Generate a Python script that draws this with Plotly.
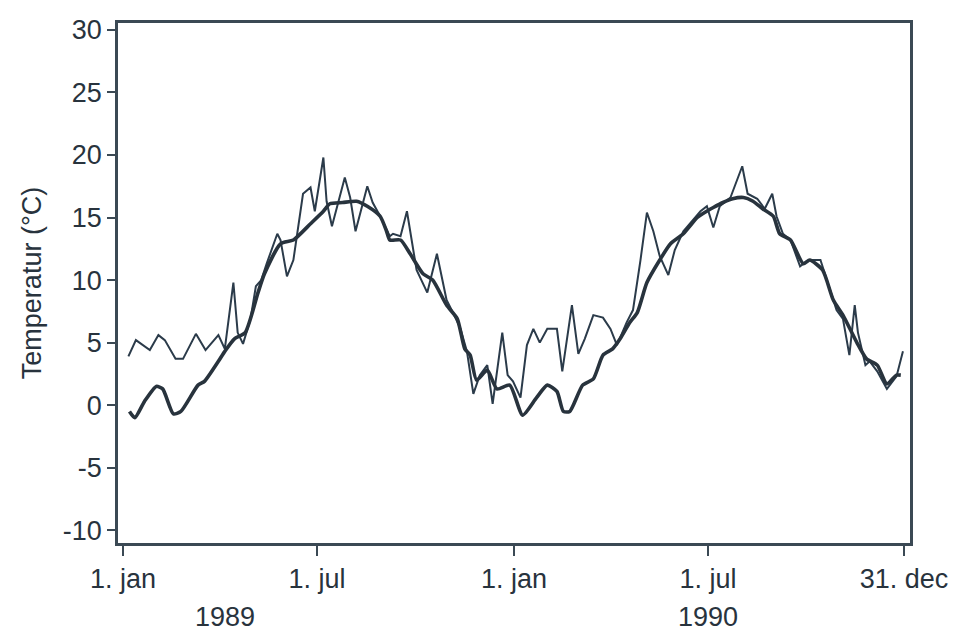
import pandas as pd
import plotly.graph_objects as go

# Days since 1 Jan 1989 and temperatures (°C)
thin_days = [5, 12, 25, 33, 39, 49, 56, 68, 77, 89, 95, 103, 107, 112, 119, 124, 129, 134,
             144, 147, 153, 159, 168, 175, 179, 187, 190, 195, 207, 212, 217, 228, 233, 240,
             249, 252, 259, 265, 274, 284, 293, 302, 308, 315, 321, 327, 333, 340, 345, 354,
             359, 364, 371, 377, 383, 389, 396, 405, 410, 419, 425, 431, 439, 448, 455, 461,
             470, 476, 483, 489, 495, 501, 509, 515, 523, 529, 539, 545, 551, 557, 567, 578,
             583, 592, 599, 606, 610, 616, 623, 632, 638, 641, 651, 657, 666, 672, 678, 683,
             686, 693, 697, 704, 713, 722, 728]
thin_temp = [3.9, 5.2, 4.4, 5.6, 5.2, 3.7, 3.7, 5.7, 4.4, 5.6, 4.5, 9.8, 5.8, 4.9, 6.9, 9.5, 10.0, 11.3,
             13.7, 13.2, 10.3, 11.6, 16.9, 17.4, 15.5, 19.8, 16.3, 14.3, 18.2, 16.6, 13.9, 17.5, 16.2, 15.1,
             13.5, 13.7, 13.5, 15.5, 10.8, 9.0, 12.1, 8.4, 7.4, 6.1, 4.3, 0.9, 2.4, 3.2, 0.1, 5.8,
             2.4, 1.9, 0.6, 4.8, 6.1, 5.0, 6.1, 6.1, 2.7, 8.0, 4.1, 5.3, 7.2, 7.0, 6.1, 4.8,
             6.6, 7.6, 11.6, 15.4, 13.9, 11.9, 10.4, 12.4, 13.9, 14.5, 15.5, 15.9, 14.2, 15.9, 16.6, 19.1,
             16.9, 16.5, 15.7, 16.9, 15.1, 13.7, 13.2, 11.1, 11.5, 11.6, 11.6, 10.0, 7.6, 6.9, 4.0, 8.0,
             5.8, 3.2, 3.5, 2.7, 1.3, 2.3, 4.3]

smooth_days = [6, 11, 20, 31, 37, 47, 54, 70, 76, 89, 95, 104, 114, 126, 132, 147, 159, 175, 187,
               193, 205, 218, 228, 240, 246, 249, 259, 268, 280, 289, 302, 312, 319, 324, 330, 340,
               349, 361, 373, 386, 396, 405, 411, 417, 429, 439, 448, 457, 464, 473, 480, 489, 501,
               511, 523, 536, 541, 551, 560, 569, 579, 588, 597, 607, 613, 623, 635, 641, 653, 663,
               672, 685, 694, 704, 713, 722, 726]
smooth_temp = [-0.5, -1.0, 0.3, 1.5, 1.3, -0.7, -0.5, 1.6, 1.9, 3.5, 4.3, 5.3, 5.8, 9.0, 10.5, 12.9, 13.2, 14.5, 15.5,
               16.1, 16.2, 16.3, 15.9, 15.1, 13.9, 13.2, 13.2, 12.1, 10.5, 10.0, 8.0, 6.9, 4.5, 4.0, 2.0, 2.8,
               1.3, 1.6, -0.8, 0.6, 1.6, 1.1, -0.5, -0.5, 1.6, 2.1, 4.0, 4.5, 5.3, 6.6, 7.4, 9.8, 11.6,
               12.9, 13.7, 15.0, 15.3, 15.8, 16.2, 16.5, 16.6, 16.3, 15.7, 15.1, 13.7, 13.2, 11.3, 11.6, 10.8, 8.4,
               7.2, 5.0, 3.7, 3.2, 1.7, 2.4, 2.4]

tick_dates = ["1989-01-01", "1989-07-01", "1990-01-01", "1990-07-01", "1990-12-31"]
tick_labels = ["1. jan", "1. jul", "1. jan", "1. jul", "31. dec"]
year_labels = ["1989", "1990"]
year_label_dates = ["1989-04-06", "1990-07-01"]

base = pd.Timestamp("1989-01-01")
thin_x = [base + pd.Timedelta(days=d) for d in thin_days]
smooth_x = [base + pd.Timedelta(days=d) for d in smooth_days]

ink = "#28333d"
axis_col = "#3b4954"
FONT = "Liberation Sans, Arial, Helvetica, sans-serif"
FS = 27

fig = go.Figure()
fig.add_trace(go.Scatter(x=thin_x, y=thin_temp, mode="lines",
                         line=dict(color="#2b3b4a", width=2.0), showlegend=False))
fig.add_trace(go.Scatter(x=smooth_x, y=smooth_temp, mode="lines",
                         line=dict(color=ink, width=3.6, shape="spline", smoothing=0.6),
                         showlegend=False))

for lab, d in zip(year_labels, year_label_dates):
    fig.add_annotation(x=d, y=-0.143, xref="x", yref="paper", text=lab, showarrow=False,
                       font=dict(size=FS, color=ink, family=FONT),
                       xanchor="center", yanchor="middle")

fig.update_layout(
    width=968, height=634,
    margin=dict(l=110, r=66, t=7, b=99),
    plot_bgcolor="white", paper_bgcolor="white",
    font=dict(family=FONT, size=FS, color=ink),
)
fig.update_xaxes(
    range=["1988-12-27 07:00", "1991-01-05 14:00"],
    tickmode="array", tickvals=tick_dates, ticktext=tick_labels,
    showgrid=False, zeroline=False,
    showline=True, linecolor=axis_col, linewidth=2.5, mirror=True,
    ticks="outside", ticklen=10, tickwidth=2, tickcolor=axis_col,
    tickfont=dict(size=FS, color=ink),
)
fig.update_yaxes(
    range=[-11.02, 30.55],
    tickmode="array", tickvals=[-10, -5, 0, 5, 10, 15, 20, 25, 30],
    ticktext=["-10", "-5", "0", "5", "10", "15", "20", "25", "30"],
    showgrid=False, zeroline=False,
    showline=True, linecolor=axis_col, linewidth=2.5, mirror=True,
    ticks="outside", ticklen=8, tickwidth=2, tickcolor=axis_col,
    tickfont=dict(size=FS, color=ink),
    title=dict(text="Temperatur (°C)", font=dict(size=FS, color=ink), standoff=14),
)

fig.write_html("out.html")
